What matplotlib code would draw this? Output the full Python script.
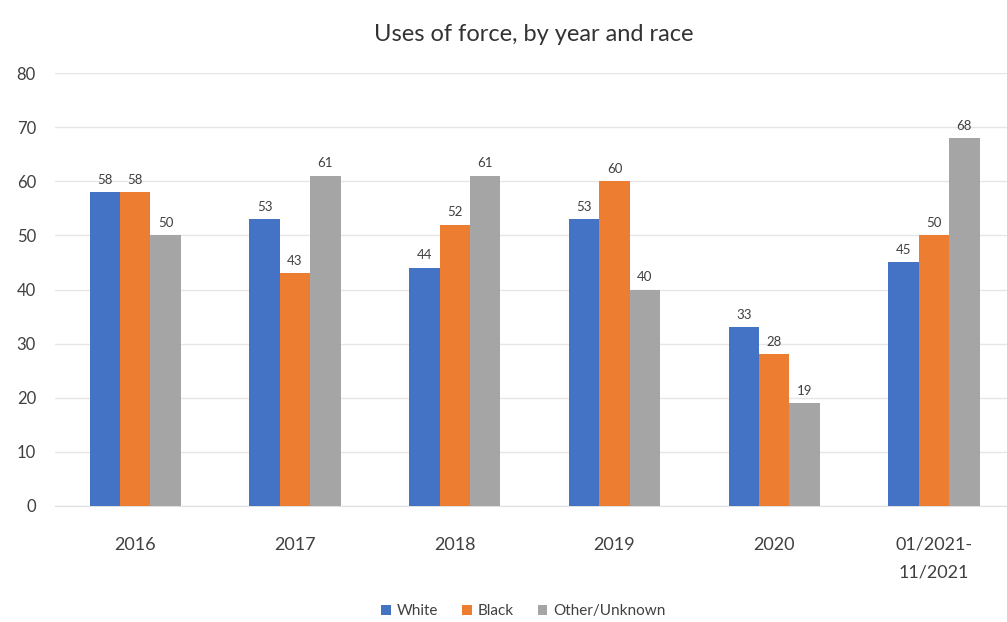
import matplotlib
matplotlib.use("Agg")
import matplotlib.pyplot as plt
import numpy as np

categories = ["2016", "2017", "2018", "2019", "2020", "01/2021-\n11/2021"]
white = [58, 53, 44, 53, 33, 45]
black = [58, 43, 52, 60, 28, 50]
other = [50, 61, 61, 40, 19, 68]
series_names = ["White", "Black", "Other/Unknown"]
colors = ["#4472C4", "#ED7D31", "#A5A5A5"]

plt.rcParams['font.family'] = ['Lato', 'DejaVu Sans']

fig = plt.figure(figsize=(10.07, 6.22), dpi=100)
ax = fig.add_axes([0.055, 0.1865, 0.955, 0.696])

x = np.arange(len(categories))
w = 0.19
for i, (vals, name, c) in enumerate(zip([white, black, other], series_names, colors)):
    pos = x + (i - 1) * w
    ax.bar(pos, vals, width=w, color=c, label=name, zorder=3)
    for p, v in zip(pos, vals):
        ax.text(p, v + 1.2, str(v), ha="center", va="bottom", fontsize=9.5, color="#404040")

ax.set_ylim(0, 80)
ax.set_xlim(-0.5, 5.52)
ax.set_yticks(range(0, 81, 10))
ax.set_xticks(x)
ax.set_xticklabels(categories, fontsize=13, color="#404040", linespacing=1.9)
ax.tick_params(axis="y", labelsize=12, colors="#404040", length=0, pad=14)
ax.tick_params(axis="x", length=0, pad=22)
ax.grid(axis="y", color="#E6E6E6", linewidth=1, zorder=0)
for s in ["top", "right", "left"]:
    ax.spines[s].set_visible(False)
ax.spines["bottom"].set_color("#E0E0E0")

fig.text(0.53, 0.945, "Uses of force, by year and race", ha="center", va="center",
         fontsize=17, color="#333333")

fig.legend(loc="center", bbox_to_anchor=(0.52, 0.017), ncol=3, frameon=False,
           fontsize=11, handlelength=0.6, handleheight=0.6, columnspacing=1.6,
           handletextpad=0.4, labelcolor="#404040")

fig.savefig("out.png", dpi=100)
